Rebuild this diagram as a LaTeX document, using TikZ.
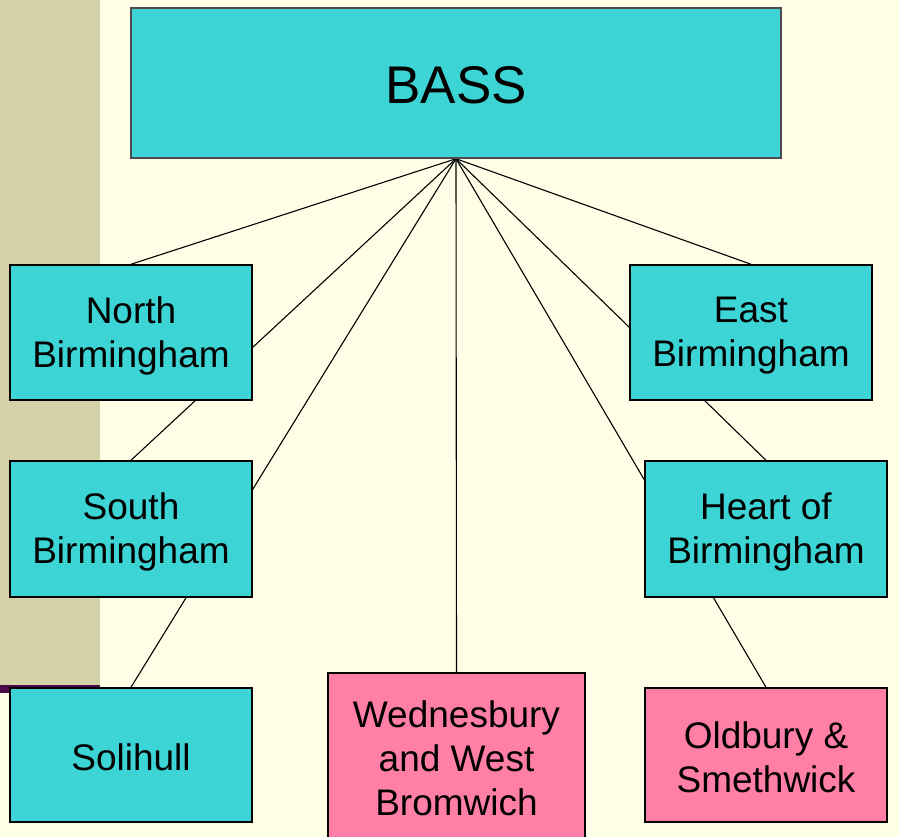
\documentclass[tikz,border=0pt]{standalone}
\usepackage{fontspec}
\setmainfont{Liberation Sans}
\usetikzlibrary{backgrounds}
\definecolor{bgyel}{HTML}{FFFFE8}
\definecolor{khaki}{HTML}{D4D0A8}
\definecolor{plum}{HTML}{4A0A4A}
\definecolor{boxcyan}{HTML}{3CD4D4}
\definecolor{boxpink}{HTML}{FF7FA6}
\tikzset{
  unitbox/.style={draw=black, line width=1.5pt, fill=boxcyan, minimum width=242pt, minimum height=135pt, inner sep=0pt},
  pinkbox/.style={unitbox, fill=boxpink},
  boxtext/.style={inner sep=0pt, align=center, font=\fontsize{37}{44}\selectfont},
  link/.style={draw=black, line width=1.1pt}
}
\begin{document}
\begin{tikzpicture}[x=1pt,y=-1pt]
\useasboundingbox (0,0) rectangle (899,837);
\clip (0,0) rectangle (899,837);

\node[unitbox, minimum width=650pt, minimum height=150pt, draw=black!70] (bass) at (456,83) {};
\node[unitbox] (north) at (131,332.5) {};
\node[unitbox, minimum height=136pt] (south) at (131,529) {};
\node[unitbox, minimum height=134pt] (soli) at (131,755) {};
\node[unitbox] (east) at (751,332.5) {};
\node[unitbox, minimum height=136pt] (heart) at (766,529) {};
\node[pinkbox, minimum height=134pt] (old) at (766,755) {};
\node[pinkbox, minimum width=257pt, minimum height=166pt] (wed) at (456.5,756) {};

\node[boxtext, font=\fontsize{53}{60}\selectfont] (basst) at ([yshift=-2pt]bass.center) {BASS};
\node[boxtext] (northt) at ([yshift=-3pt]north.center) {North\\Birmingham};
\node[boxtext] (southt) at ([yshift=-3pt]south.center) {South\\Birmingham};
\node[boxtext] (solit) at ([yshift=-2pt]soli.center) {Solihull};
\node[boxtext] (eastt) at ([yshift=-3pt]east.center) {East\\Birmingham};
\node[boxtext] (heartt) at ([yshift=-3pt]heart.center) {Heart of\\Birmingham};
\node[boxtext] (oldt) at ([yshift=-2pt]old.center) {Oldbury \&\\Smethwick};
\node[boxtext] (wedt) at ([yshift=-2pt]wed.center) {Wednesbury\\and West\\Bromwich};

\begin{pgfonlayer}{background}
\fill[bgyel] (0,0) rectangle (899,837);
\fill[khaki] (0,0) rectangle (100,685);
\fill[plum] (0,685) rectangle (100,693);
\draw[link] (bass.south) -- (north.north);
\draw[link] (bass.south) -- (south.north);
\draw[link] (bass.south) -- (soli.north);
\draw[link] (bass.south) -- (wed.north);
\draw[link] (bass.south) -- (east.north);
\draw[link] (bass.south) -- (heart.north);
\draw[link] (bass.south) -- (old.north);
\end{pgfonlayer}
\end{tikzpicture}
\end{document}
